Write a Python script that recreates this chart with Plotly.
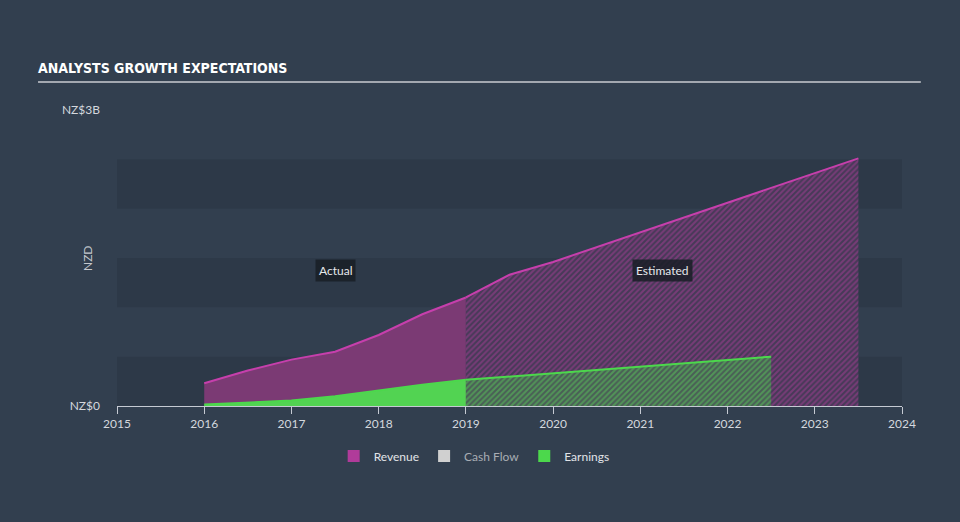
import plotly.graph_objects as go

# ---- data (NZ$ billions) ----
years_actual = [2016.0, 2016.5, 2017.0, 2017.5, 2018.0, 2018.5, 2019.0]
revenue_actual = [0.23, 0.36, 0.47, 0.55, 0.72, 0.93, 1.10]
earnings_actual = [0.015, 0.035, 0.055, 0.10, 0.16, 0.215, 0.265]

years_rev_est = [2019.0, 2019.5, 2020.0, 2021.0, 2022.0, 2023.0, 2023.5]
revenue_est = [1.10, 1.33, 1.46, 1.76, 2.06, 2.36, 2.51]

years_earn_est = [2019.0, 2020.0, 2021.0, 2022.0, 2022.5]
earnings_est = [0.265, 0.33, 0.40, 0.465, 0.50]

x_ticks = [2015, 2016, 2017, 2018, 2019, 2020, 2021, 2022, 2023, 2024]
y_ticks = [0, 3]
y_tick_text = ["NZ$0", "NZ$3B"]
legend_names = ["Revenue", "Cash Flow", "Earnings"]

# ---- styles ----
BG = "#323f4f"
REV_LINE = "#c63fac"
REV_FILL = "#7b3a74"
EARN_LINE = "#4cd84c"
EARN_FILL = "#52d352"
FONT = "Lato, 'Open Sans', sans-serif"
TITLE_FONT = ("'Noto Sans ExtraCondensed', 'Noto Sans Condensed', "
              "'DejaVu Sans Condensed', sans-serif")

fig = go.Figure()

fig.add_trace(go.Scatter(x=years_actual, y=revenue_actual, mode="lines",
                         line=dict(color=REV_LINE, width=2), fill="tozeroy",
                         fillcolor=REV_FILL, showlegend=False, hoverinfo="skip"))
fig.add_trace(go.Scatter(x=years_rev_est, y=revenue_est, mode="lines",
                         line=dict(color=REV_LINE, width=2), fill="tozeroy",
                         fillpattern=dict(shape="/", fgcolor="#a83d97", bgcolor="#463a57",
                                          size=4, solidity=0.5),
                         showlegend=False, hoverinfo="skip"))
fig.add_trace(go.Scatter(x=years_actual, y=earnings_actual, mode="lines",
                         line=dict(color=EARN_LINE, width=2), fill="tozeroy",
                         fillcolor=EARN_FILL, showlegend=False, hoverinfo="skip"))
fig.add_trace(go.Scatter(x=years_earn_est, y=earnings_est, mode="lines",
                         line=dict(color=EARN_LINE, width=2), fill="tozeroy",
                         fillpattern=dict(shape="/", fgcolor="#5acb5a", bgcolor="#4a5e56",
                                          size=4, solidity=0.5),
                         showlegend=False, hoverinfo="skip"))

# legend-only entries
legend_colors = ["#b03b9a", "#d0d0d0", "#4cd84c"]
legend_text_colors = ["#e2e4e8", "#a8adb4", "#e2e4e8"]
for name, col, tcol in zip(legend_names, legend_colors, legend_text_colors):
    fig.add_trace(go.Bar(x=[None], y=[None], marker=dict(color=col, line=dict(width=0)),
                         name=f"<span style='color:{tcol}'>{name}</span>",
                         showlegend=True, hoverinfo="skip"))

shapes = []
for y0 in [0.0, 1.0, 2.0]:
    shapes.append(dict(type="rect", xref="paper", yref="y", x0=0, x1=1, y0=y0, y1=y0 + 0.5,
                       fillcolor="rgba(0,0,0,0.085)", line=dict(width=0), layer="below"))
shapes.append(dict(type="line", xref="paper", yref="paper", x0=-0.1006, x1=1.024,
                   y0=1.0946, y1=1.0946, line=dict(color="#a3a8b0", width=2)))

annotations = [
    dict(text="Actual", x=2017.5, y=1.37, xref="x", yref="y", showarrow=False,
         font=dict(family=FONT, size=12, color="#e6e8ec"), bgcolor="rgba(25,30,38,0.85)",
         borderpad=3),
    dict(text="Estimated", x=2021.25, y=1.37, xref="x", yref="y", showarrow=False,
         font=dict(family=FONT, size=12, color="#e6e8ec"), bgcolor="rgba(25,30,38,0.85)",
         borderpad=3),
    dict(text="NZD", x=-0.0382, y=0.5, xref="paper", yref="paper", showarrow=False,
         xanchor="center", yanchor="middle",
         textangle=-90, font=dict(family=FONT, size=12, color="#c4c8ce")),
]

fig.update_layout(
    width=960, height=522,
    paper_bgcolor=BG, plot_bgcolor=BG,
    margin=dict(l=117, r=58, t=110, b=116),
    font=dict(family=FONT, size=12, color="#d4d8de"),
    title=dict(text="<b>ANALYSTS GROWTH EXPECTATIONS</b>", xref="container", yref="container",
               x=38 / 960, xanchor="left", y=1 - 68 / 522, yanchor="middle",
               font=dict(family=TITLE_FONT, size=14, color="#ffffff")),
    xaxis=dict(range=[2015, 2024], tickvals=x_ticks, showgrid=False, zeroline=False,
               showline=True, linecolor="#c5cad3", linewidth=1, ticks="outside", ticklen=7,
               tickcolor="#c5cad3", tickfont=dict(size=12, color="#d4d8de")),
    yaxis=dict(range=[0, 3], tickvals=y_ticks, ticktext=y_tick_text, showgrid=False,
               zeroline=False, showline=False, ticks="", ticklabelstandoff=16,
               tickfont=dict(size=12, color="#d4d8de")),
    shapes=shapes, annotations=annotations,
    showlegend=True,
    legend=dict(orientation="h", x=0.455, xanchor="center", y=-0.169, yanchor="middle",
                font=dict(size=12), bgcolor="rgba(0,0,0,0)", itemwidth=30),
    hovermode=False,
)

fig.write_html("out.html")
